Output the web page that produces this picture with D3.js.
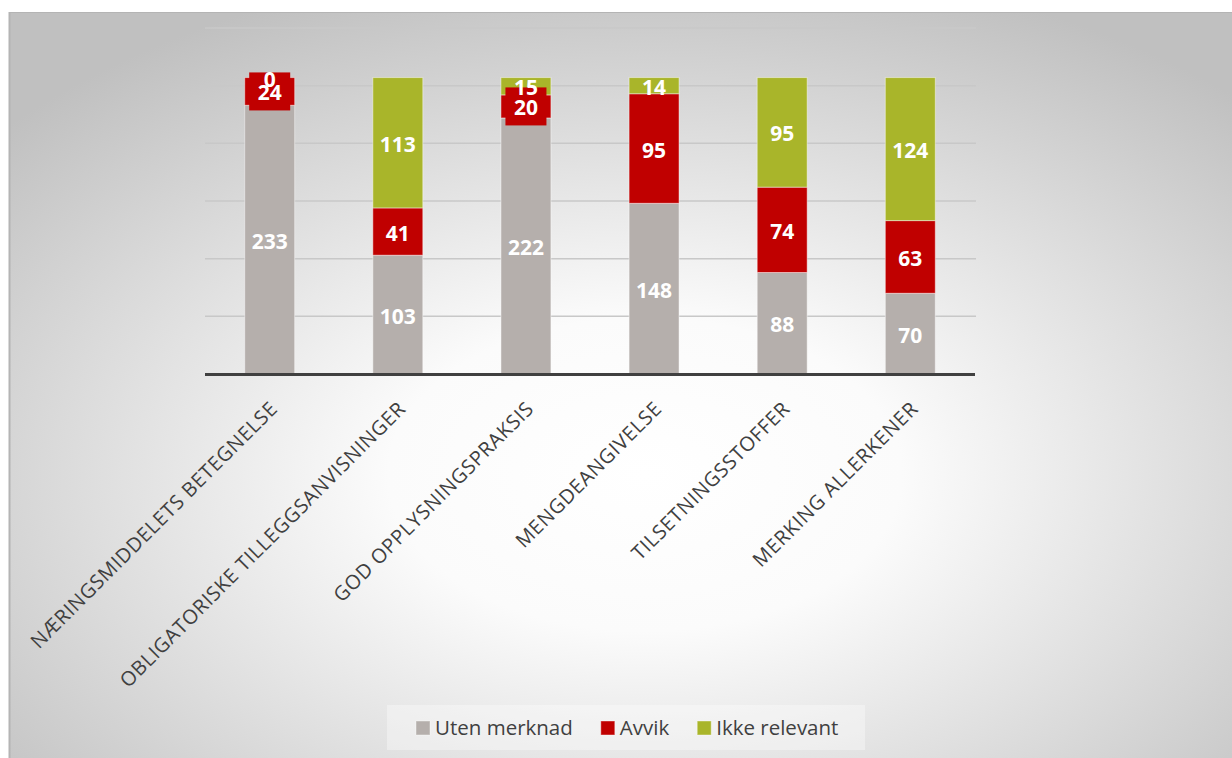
<!DOCTYPE html>
<meta charset="utf-8">
<style>
body { margin: 0; background: #fff; }
text { font-family: "Open Sans", sans-serif; }
.grid line { stroke: #c8c8c8; stroke-width: 1.5px; }
.cat text { fill: #404040; font-size: 20px; letter-spacing: 0.6px; }
.val { fill: #fff; font-size: 21px; font-weight: 700; }
.legend text { fill: #404040; font-size: 20.5px; }
</style>
<svg width="1232" height="758"></svg>
<script src="https://d3js.org/d3.v7.min.js"></script>
<script>

var categories = ["NÆRINGSMIDDELETS BETEGNELSE", "OBLIGATORISKE TILLEGGSANVISNINGER",
  "GOD OPPLYSNINGSPRAKSIS", "MENGDEANGIVELSE", "TILSETNINGSSTOFFER", "MERKING ALLERKENER"];
var seriesNames = ["Uten merknad", "Avvik", "Ikke relevant"];
var utenMerknad = [233, 103, 222, 148, 88, 70];
var avvik = [24, 41, 20, 95, 74, 63];
var ikkeRelevant = [0, 113, 15, 14, 95, 124];
var gridTicks = [50, 100, 150, 200, 250, 300];

var colors = {"Uten merknad": "#b5afac", "Avvik": "#c00000", "Ikke relevant": "#a9b52a"};

var rows = categories.map(function(c, i) {
  return {cat: c, "Uten merknad": utenMerknad[i], "Avvik": avvik[i], "Ikke relevant": ikkeRelevant[i]};
});

var svg = d3.select("svg");

// background panel with soft radial shading
var defs = svg.append("defs");
var grad = defs.append("radialGradient").attr("id", "bg")
    .attr("cx", "0.52").attr("cy", "0.62").attr("r", "0.7");
grad.append("stop").attr("offset", "0").attr("stop-color", "#ffffff");
grad.append("stop").attr("offset", "0.3").attr("stop-color", "#fbfbfb");
grad.append("stop").attr("offset", "1").attr("stop-color", "#c0c0c0");

svg.append("rect").attr("x", 9).attr("y", 12).attr("width", 1223).attr("height", 746)
    .attr("fill", "url(#bg)");
svg.append("line").attr("x1", 9).attr("x2", 1232).attr("y1", 12.5).attr("y2", 12.5)
    .attr("stroke", "#b4b4b4");
svg.append("line").attr("x1", 9.5).attr("x2", 9.5).attr("y1", 12).attr("y2", 758)
    .attr("stroke", "#b4b4b4").attr("stroke-width", 2);

var x = d3.scaleBand().domain(categories).range([205, 975])
    .paddingInner(0.61).paddingOuter(0.31);
var y = d3.scaleLinear().domain([0, 300]).range([374, 28]);

svg.append("g").attr("class", "grid")
  .selectAll("line").data(gridTicks).enter().append("line")
    .attr("x1", 205).attr("x2", 976)
    .attr("y1", function(d) { return y(d); })
    .attr("y2", function(d) { return y(d); });

var stack = d3.stack().keys(seriesNames)(rows);

var layers = svg.append("g").selectAll("g").data(stack).enter().append("g")
    .attr("fill", function(d) { return colors[d.key]; });

layers.selectAll("rect").data(function(d) { return d; }).enter().append("rect")
    .attr("x", function(d) { return x(d.data.cat); })
    .attr("width", x.bandwidth())
    .attr("y", function(d) { return y(d[1]); })
    .attr("height", function(d) { return y(d[0]) - y(d[1]); })
    .attr("stroke", "#ffffff").attr("stroke-opacity", 0.45).attr("stroke-width", 1);

// axis line
svg.append("line").attr("x1", 205).attr("x2", 975)
    .attr("y1", y(0) + 0.5).attr("y2", y(0) + 0.5)
    .attr("stroke", "#404040").attr("stroke-width", 3);

// red label boxes for thin Avvik segments
var avvikLayer = stack[1];
svg.append("g").selectAll("rect")
  .data(avvikLayer.filter(function(d) { return d[1] - d[0] < 30; })).enter().append("rect")
    .attr("x", function(d) { return x(d.data.cat) + x.bandwidth() / 2 - 20.5; })
    .attr("width", 41)
    .attr("y", function(d) { return y((d[0] + d[1]) / 2) - 19; })
    .attr("height", 38)
    .attr("fill", "#c00000");

// value labels
stack.forEach(function(layer) {
  svg.append("g").selectAll("text").data(layer).enter().append("text")
      .attr("class", "val")
      .attr("text-anchor", "middle")
      .attr("dominant-baseline", "central")
      .attr("x", function(d) { return x(d.data.cat) + x.bandwidth() / 2; })
      .attr("y", function(d) { return y((d[0] + d[1]) / 2) + 1; })
      .text(function(d) { return d[1] - d[0]; });
});

// category labels
svg.append("g").attr("class", "cat").selectAll("text").data(categories).enter().append("text")
    .attr("text-anchor", "end")
    .attr("transform", function(d) {
      return "translate(" + (x(d) + x.bandwidth() / 2 + 9) + "," + (y(0) + 36) + ") rotate(-45)";
    })
    .text(function(d) { return d; });

// legend
var legend = svg.append("g").attr("class", "legend");
legend.append("rect").attr("x", 387).attr("y", 705).attr("width", 478).attr("height", 45)
    .attr("fill", "#ffffff").attr("opacity", 0.35);
var lx = 416;
seriesNames.forEach(function(s) {
  legend.append("rect").attr("x", lx).attr("y", 721).attr("width", 14).attr("height", 14)
      .attr("fill", colors[s]).attr("stroke", "#ffffff").attr("stroke-opacity", 0.4);
  var t = legend.append("text").attr("x", lx + 19).attr("y", 735).text(s);
  lx += 19 + t.node().getComputedTextLength() + 28;
});

</script>
